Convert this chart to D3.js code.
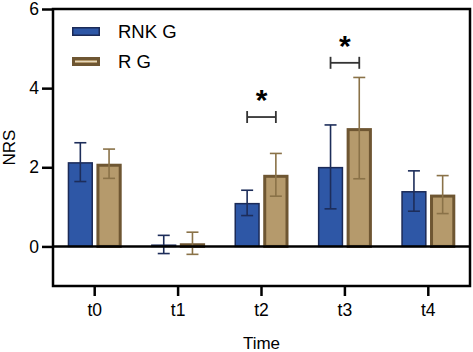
<html>
<head>
<script src="https://cdn.jsdelivr.net/npm/d3@7"></script>
<style>
  body { margin: 0; background: #fff; }
  text { font-family: Arial, "Liberation Sans", sans-serif; }
</style>
</head>
<body>
<script>
// Chart data
var times = ["t0", "t1", "t2", "t3", "t4"];
var groups = ["RNK G", "R G"];
var rnkMean = [2.13, 0.05, 1.10, 2.01, 1.40];
var rnkErr  = [0.49, 0.23, 0.32, 1.06, 0.51];
var rgMean  = [2.09, 0.08, 1.81, 2.99, 1.31];
var rgErr   = [0.37, 0.28, 0.54, 1.28, 0.48];
var sigTimes  = ["t2", "t3"];
var sigLevels = [3.27, 4.64];
var yTicks = [0, 2, 4, 6];

var width = 473, height = 352;
var margin = {left: 53, right: 3, top: 9, bottom: 66};

var fills = ["#2e57a6", "#b59a6c"];
var strokes = ["#1b2a57", "#6e5632"];
var errColors = ["#1d2d5a", "#8a7248"];
var strokeW = [1.5, 3];

var svg = d3.select("body").append("svg")
    .attr("width", width)
    .attr("height", height);

var x = d3.scaleBand()
    .domain(times)
    .range([margin.left, width - margin.right])
    .padding(0);

var sub = d3.scaleBand()
    .domain(groups)
    .range([-27, 27])
    .paddingInner(0.12);

var y = d3.scaleLinear()
    .domain([-1, 6])
    .range([height - margin.bottom, margin.top]);

var series = [
    {name: groups[0], mean: rnkMean, err: rnkErr},
    {name: groups[1], mean: rgMean, err: rgErr}
];

// bars
series.forEach(function(s, i) {
    var g = svg.append("g");
    var bw = sub.bandwidth();
    g.selectAll("rect")
        .data(times)
        .join("rect")
        .attr("x", (t) => x(t) + x.bandwidth() / 2 + sub(s.name) + strokeW[i] / 2)
        .attr("width", bw - strokeW[i])
        .attr("y", (t, j) => y(s.mean[j]) + strokeW[i] / 2)
        .attr("height", (t, j) => Math.max(0, y(0) - y(s.mean[j]) - strokeW[i] / 2))
        .attr("fill", fills[i])
        .attr("stroke", strokes[i])
        .attr("stroke-width", strokeW[i]);

    // error bars
    var eb = g.selectAll("g.err")
        .data(times)
        .join("g")
        .attr("class", "err")
        .attr("stroke", errColors[i])
        .attr("stroke-width", 1.6);
    var cx = (t) => x(t) + x.bandwidth() / 2 + sub(s.name) + bw / 2;
    eb.append("line")
        .attr("x1", cx).attr("x2", cx)
        .attr("y1", (t, j) => y(s.mean[j] - s.err[j]))
        .attr("y2", (t, j) => y(s.mean[j] + s.err[j]));
    eb.append("line")
        .attr("x1", (t) => cx(t) - 6).attr("x2", (t) => cx(t) + 6)
        .attr("y1", (t, j) => y(s.mean[j] + s.err[j]))
        .attr("y2", (t, j) => y(s.mean[j] + s.err[j]));
    eb.append("line")
        .attr("x1", (t) => cx(t) - 6).attr("x2", (t) => cx(t) + 6)
        .attr("y1", (t, j) => y(s.mean[j] - s.err[j]))
        .attr("y2", (t, j) => y(s.mean[j] - s.err[j]));
});

// frame
svg.append("rect")
    .attr("x", margin.left)
    .attr("y", margin.top)
    .attr("width", width - margin.right - margin.left)
    .attr("height", y(-1) - margin.top)
    .attr("fill", "none")
    .attr("stroke", "#000")
    .attr("stroke-width", 2.5);

// zero line
svg.append("line")
    .attr("x1", margin.left).attr("x2", width - margin.right)
    .attr("y1", y(0)).attr("y2", y(0))
    .attr("stroke", "#000").attr("stroke-width", 2.5);

// y axis
var yAxis = svg.append("g")
    .attr("transform", "translate(" + margin.left + ",0)")
    .call(d3.axisLeft(y).tickValues(yTicks).tickFormat(d3.format("d")).tickSize(11).tickPadding(3));
yAxis.select(".domain").remove();
yAxis.selectAll(".tick line").attr("stroke-width", 2.5);
yAxis.selectAll(".tick text").attr("font-size", 17.5).attr("fill", "#000");

// x axis
var xAxis = svg.append("g")
    .attr("transform", "translate(0," + y(-1) + ")")
    .call(d3.axisBottom(x).tickSize(10).tickPadding(8));
xAxis.select(".domain").remove();
xAxis.selectAll(".tick line").attr("stroke-width", 2.5);
xAxis.selectAll(".tick text").attr("font-size", 17.5).attr("fill", "#000");

// axis titles
svg.append("text")
    .attr("x", (margin.left + width - margin.right) / 2)
    .attr("y", 348.5)
    .attr("text-anchor", "middle")
    .attr("font-size", 17)
    .text("Time");

svg.append("text")
    .attr("transform", "translate(15," + y(2.5) + ") rotate(-90)")
    .attr("text-anchor", "middle")
    .attr("font-size", 17)
    .text("NRS");

// significance brackets
sigTimes.forEach(function(t, k) {
    var x1 = x(t) + x.bandwidth() / 2 + sub(groups[0]) + sub.bandwidth() / 2;
    var x2 = x(t) + x.bandwidth() / 2 + sub(groups[1]) + sub.bandwidth() / 2;
    var yy = y(sigLevels[k]);
    var g = svg.append("g").attr("stroke", "#333").attr("stroke-width", 1.8);
    g.append("line").attr("x1", x1).attr("x2", x2).attr("y1", yy).attr("y2", yy);
    g.append("line").attr("x1", x1).attr("x2", x1).attr("y1", yy - 6).attr("y2", yy + 6);
    g.append("line").attr("x1", x2).attr("x2", x2).attr("y1", yy - 6).attr("y2", yy + 6);
    svg.append("text")
        .attr("x", (x1 + x2) / 2)
        .attr("y", yy - 7)
        .attr("text-anchor", "middle")
        .attr("font-size", 30)
        .attr("font-weight", "bold")
        .text("*");
});

// legend
var legend = svg.append("g");
groups.forEach(function(gname, i) {
    var ly = 31 + i * 30;
    legend.append("rect")
        .attr("x", 72 + strokeW[i] / 2).attr("y", ly - 4 + strokeW[i] / 2)
        .attr("width", 28 - strokeW[i]).attr("height", 9 - strokeW[i])
        .attr("fill", fills[i])
        .attr("stroke", strokes[i])
        .attr("stroke-width", strokeW[i]);
    if (i === 1) {
        legend.append("line")
            .attr("x1", 75).attr("x2", 97)
            .attr("y1", ly + 0.5).attr("y2", ly + 0.5)
            .attr("stroke", "#e6d8bd").attr("stroke-width", 1);
    }
    legend.append("text")
        .attr("x", 118).attr("y", ly + 6.5)
        .attr("font-size", 18.5)
        .text(gname);
});
</script>
</body>
</html>
